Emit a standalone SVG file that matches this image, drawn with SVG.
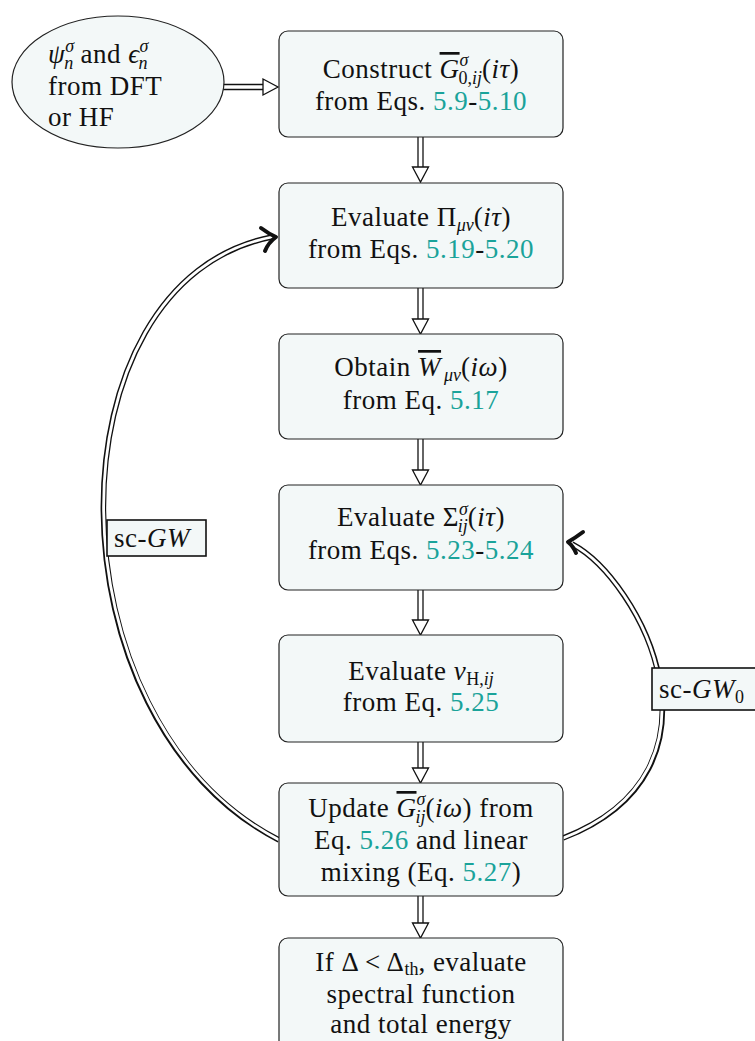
<svg xmlns="http://www.w3.org/2000/svg" width="755" height="1041" viewBox="0 0 755 1041">
<style>
.t{font-family:"Liberation Serif",serif;font-size:27px;letter-spacing:0.5px;fill:#111}
.m{text-anchor:middle}
.i{font-style:italic}
.s{font-size:18px;letter-spacing:0}
.c{fill:#1aa39a}
.ov{text-decoration:overline}
.box{fill:#f3f8f8;stroke:#222;stroke-width:1.2}
.lbl{fill:#f3f8f8;stroke:#111;stroke-width:1.6}
.sh{stroke:#111;stroke-width:1.3;fill:none}
.hd{fill:#fff;stroke:#111;stroke-width:1.3;stroke-linejoin:miter}
.dblo{fill:none;stroke:#111;stroke-width:5.6}
.dbli{fill:none;stroke:#fff;stroke-width:2.8}
.tip{fill:none;stroke:#111;stroke-width:4;stroke-linecap:round;stroke-linejoin:round}
</style>
<rect width="755" height="1041" fill="#fff"/>

<g id="connectors">
  <line class="sh" x1="223" y1="84.5" x2="263" y2="84.5"/>
  <line class="sh" x1="223" y1="89.5" x2="263" y2="89.5"/>
  <polygon class="hd" points="263,79 263,95 278,87"/>
  <g id="a12"><line class="sh" x1="418" y1="137" x2="418" y2="167"/><line class="sh" x1="423" y1="137" x2="423" y2="167"/><polygon class="hd" points="412.5,167 428.5,167 420.5,182"/></g>
  <g id="a23"><line class="sh" x1="418" y1="288" x2="418" y2="319"/><line class="sh" x1="423" y1="288" x2="423" y2="319"/><polygon class="hd" points="412.5,319 428.5,319 420.5,334"/></g>
  <g id="a34"><line class="sh" x1="418" y1="439" x2="418" y2="470"/><line class="sh" x1="423" y1="439" x2="423" y2="470"/><polygon class="hd" points="412.5,470 428.5,470 420.5,485"/></g>
  <g id="a45"><line class="sh" x1="418" y1="590" x2="418" y2="620"/><line class="sh" x1="423" y1="590" x2="423" y2="620"/><polygon class="hd" points="412.5,620 428.5,620 420.5,635"/></g>
  <g id="a56"><line class="sh" x1="418" y1="742" x2="418" y2="768"/><line class="sh" x1="423" y1="742" x2="423" y2="768"/><polygon class="hd" points="412.5,768 428.5,768 420.5,783"/></g>
  <g id="a67"><line class="sh" x1="418" y1="896" x2="418" y2="923"/><line class="sh" x1="423" y1="896" x2="423" y2="923"/><polygon class="hd" points="412.5,923 428.5,923 420.5,938"/></g>
  <g id="scgw">
    <path class="dblo" d="M 279 840 C 46 721, 46 281, 272 237"/>
    <path class="dbli" d="M 281 841 C 46 721, 46 281, 272 237"/>
    <path class="tip" d="M 261 228 Q 269 234 276 237 Q 268 243 265 251"/>
  </g>
  <g id="scgw0">
    <path class="dblo" d="M 563 838 C 740 770, 640 580, 572 544"/>
    <path class="dbli" d="M 561 839 C 740 770, 640 580, 572 544"/>
    <path class="tip" d="M 583 532 Q 575 538 568 542 Q 573 546 576 553"/>
  </g>
</g>

<g id="label-scgw">
  <rect class="lbl" x="107" y="520" width="99" height="36"/>
  <text class="t" x="114" y="547">sc-<tspan class="i">GW</tspan></text>
</g>
<g id="label-scgw0">
  <rect class="lbl" x="652" y="668" width="110" height="42"/>
  <text class="t" x="659" y="698">sc-<tspan class="i">GW</tspan><tspan class="s" dy="5">0</tspan></text>
</g>

<g id="start">
  <ellipse class="box" cx="118" cy="82" rx="106" ry="66"/>
  <text class="t" x="48" y="63"><tspan class="i">ψ</tspan><tspan class="s i" dy="-11">σ</tspan><tspan class="s i" dx="-10" dy="17">n</tspan><tspan dy="-6"> and </tspan><tspan class="i">ϵ</tspan><tspan class="s i" dy="-11">σ</tspan><tspan class="s i" dx="-10" dy="17">n</tspan></text>
  <text class="t" x="48" y="95">from DFT</text>
  <text class="t" x="48" y="126">or HF</text>
</g>

<g id="box1">
  <rect class="box" x="279" y="31" width="284" height="106" rx="9"/>
  <text class="t m" x="421" y="78">Construct <tspan class="i ov">G</tspan><tspan class="s i" dy="-12">σ</tspan><tspan class="s" dx="-10" dy="18">0,<tspan class="i">ij</tspan></tspan><tspan dy="-6">(<tspan class="i">iτ</tspan>)</tspan></text>
  <text class="t m" x="421" y="110">from Eqs. <tspan class="c">5.9</tspan>-<tspan class="c">5.10</tspan></text>
</g>

<g id="box2">
  <rect class="box" x="279" y="183" width="284" height="105" rx="9"/>
  <text class="t m" x="421" y="226">Evaluate Π<tspan class="s i" dy="5">μν</tspan><tspan dy="-5">(<tspan class="i">iτ</tspan>)</tspan></text>
  <text class="t m" x="421" y="258">from Eqs. <tspan class="c">5.19</tspan>-<tspan class="c">5.20</tspan></text>
</g>

<g id="box3">
  <rect class="box" x="279" y="334" width="284" height="105" rx="9"/>
  <text class="t m" x="421" y="376">Obtain <tspan class="i ov">W</tspan><tspan class="s i" dx="3" dy="5">μν</tspan><tspan dy="-5">(<tspan class="i">iω</tspan>)</tspan></text>
  <text class="t m" x="421" y="409">from Eq. <tspan class="c">5.17</tspan></text>
</g>

<g id="box4">
  <rect class="box" x="279" y="485" width="284" height="105" rx="9"/>
  <text class="t m" x="421" y="526">Evaluate Σ<tspan class="s i" dy="-11">σ</tspan><tspan class="s i" dx="-10" dy="17">ij</tspan><tspan dy="-6">(<tspan class="i">iτ</tspan>)</tspan></text>
  <text class="t m" x="421" y="559">from Eqs. <tspan class="c">5.23</tspan>-<tspan class="c">5.24</tspan></text>
</g>

<g id="box5">
  <rect class="box" x="279" y="635" width="284" height="107" rx="9"/>
  <text class="t m" x="421" y="680">Evaluate <tspan class="i">v</tspan><tspan class="s" dy="5">H,<tspan class="i">ij</tspan></tspan></text>
  <text class="t m" x="421" y="711">from Eq. <tspan class="c">5.25</tspan></text>
</g>

<g id="box6">
  <rect class="box" x="279" y="783" width="284" height="113" rx="9"/>
  <text class="t m" x="421" y="817">Update <tspan class="i ov">G</tspan><tspan class="s i" dy="-12">σ</tspan><tspan class="s i" dx="-10" dy="18">ij</tspan><tspan dy="-6">(<tspan class="i">iω</tspan>) from</tspan></text>
  <text class="t m" x="421" y="849">Eq. <tspan class="c">5.26</tspan> and linear</text>
  <text class="t m" x="421" y="881">mixing (Eq. <tspan class="c">5.27</tspan>)</text>
</g>

<g id="box7">
  <rect class="box" x="279" y="938" width="284" height="120" rx="9"/>
  <text class="t m" x="421" y="971">If Δ &lt; Δ<tspan class="s" dy="4">th</tspan><tspan dy="-4">, evaluate</tspan></text>
  <text class="t m" x="421" y="1003">spectral function</text>
  <text class="t m" x="421" y="1033">and total energy</text>
</g>
</svg>
